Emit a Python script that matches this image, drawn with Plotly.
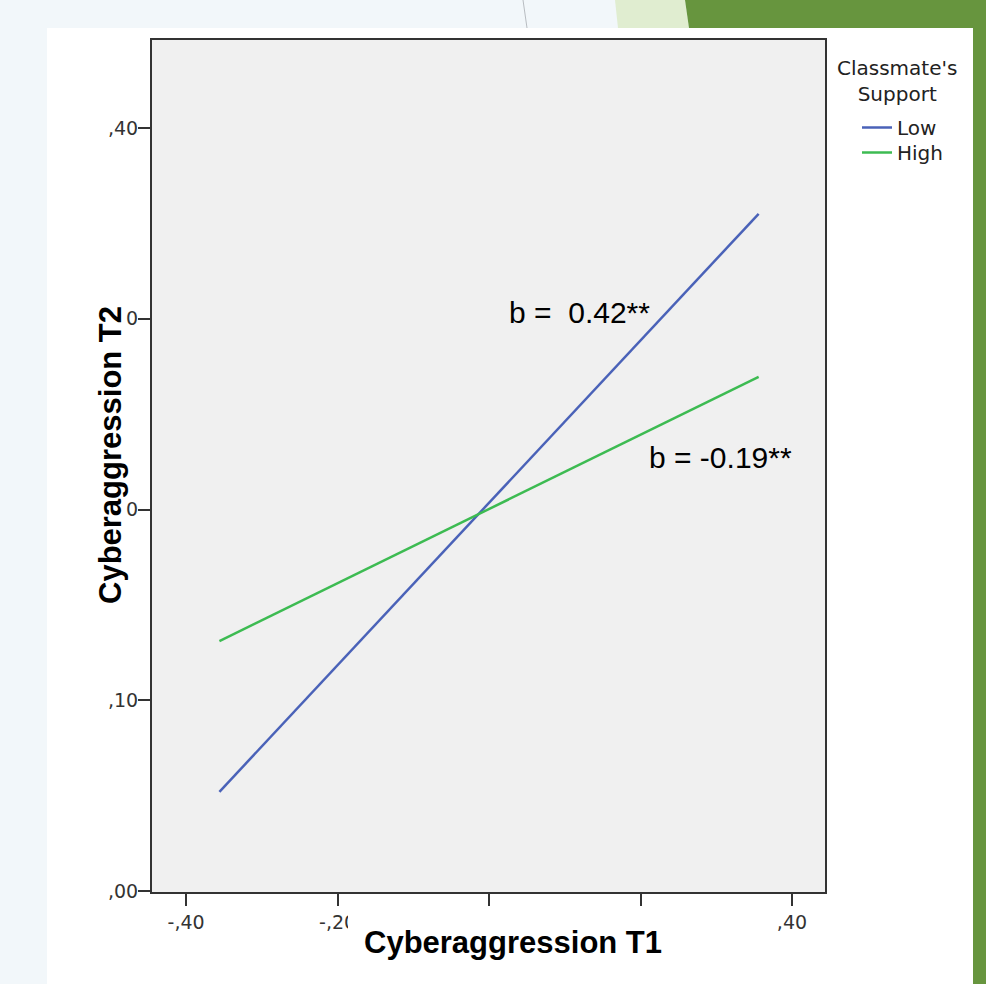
import plotly.graph_objects as go

# ---- data ----
x_points = [-0.356, 0.356]
low_support = [0.052, 0.355]
high_support = [0.131, 0.2695]
series_names = ["Low", "High"]
x_tick_vals = [-0.4, -0.2, 0.0, 0.2, 0.4]
x_tick_text = ["-,40", "-,20", ",00", ",20", ",40"]
y_tick_vals = [0.0, 0.1, 0.2, 0.3, 0.4]
y_tick_text = [",00", ",10", ",20", ",30", ",40"]
slope_labels = ["b =  0.42**", "b = -0.19**"]

W, H = 986, 984
L, R, T, B = 152, 825, 40, 892


def px(x):
    return (x - L) / (R - L)


def py(y):
    return (B - y) / (B - T)


fig = go.Figure()
fig.add_trace(go.Scatter(x=x_points, y=low_support, mode="lines", name=series_names[0],
                         line=dict(color="#4a62b8", width=2.5), legend="legend"))
fig.add_trace(go.Scatter(x=x_points, y=high_support, mode="lines", name=series_names[1],
                         line=dict(color="#3dbb52", width=2.5), legend="legend2"))

shapes = []
# page background strips
shapes.append(dict(type="rect", xref="paper", yref="paper", x0=px(0), x1=px(47), y0=py(984), y1=py(0),
                   fillcolor="#f2f7fa", line_width=0, layer="below"))
shapes.append(dict(type="rect", xref="paper", yref="paper", x0=px(0), x1=px(986), y0=py(28), y1=py(0),
                   fillcolor="#f2f7fa", line_width=0, layer="below"))
# light green slanted band
shapes.append(dict(type="path", xref="paper", yref="paper",
                   path=f"M {px(615)},{py(0)} L {px(685)},{py(0)} L {px(689)},{py(28)} L {px(618)},{py(28)} Z",
                   fillcolor="#e0edd0", line_width=0, layer="below"))
# dark green top block
shapes.append(dict(type="path", xref="paper", yref="paper",
                   path=f"M {px(685)},{py(0)} L {px(986)},{py(0)} L {px(986)},{py(28)} L {px(689)},{py(28)} Z",
                   fillcolor="#67953e", line_width=0, layer="below"))
# thin grey line
shapes.append(dict(type="line", xref="paper", yref="paper", x0=px(523), x1=px(527), y0=py(0), y1=py(28),
                   line=dict(color="#b8bcc0", width=1), layer="below"))
# right green bar
shapes.append(dict(type="rect", xref="paper", yref="paper", x0=px(973), x1=px(986), y0=py(984), y1=py(0),
                   fillcolor="#67953e", line_width=0, layer="below"))
# white boxes behind the axis titles (cover parts of tick labels)
shapes.append(dict(type="rect", xref="paper", yref="paper", x0=px(348), x1=px(690), y0=py(975), y1=py(914),
                   fillcolor="white", line_width=0, layer="above"))
shapes.append(dict(type="rect", xref="paper", yref="paper", x0=px(80), x1=px(126), y0=py(625), y1=py(290),
                   fillcolor="white", line_width=0, layer="above"))

annotations = [
    dict(x=0.120, y=0.3035, xref="x", yref="y", text=slope_labels[0], showarrow=False,
         xanchor="center", yanchor="middle",
         font=dict(family="Liberation Sans, Arial", size=30, color="black")),
    dict(x=0.306, y=0.2275, xref="x", yref="y", text=slope_labels[1], showarrow=False,
         xanchor="center", yanchor="middle",
         font=dict(family="Liberation Sans, Arial", size=30, color="black")),
    dict(x=px(513), y=py(942), xref="paper", yref="paper", text="<b>Cyberaggression T1</b>",
         showarrow=False, xanchor="center", yanchor="middle",
         font=dict(family="Liberation Sans, Arial", size=31, color="black")),
    dict(x=px(110), y=py(455), xref="paper", yref="paper", text="<b>Cyberaggression T2</b>",
         showarrow=False, textangle=-90, xanchor="center", yanchor="middle",
         font=dict(family="Liberation Sans, Arial", size=31, color="black")),
    dict(x=px(897), y=py(81), xref="paper", yref="paper", text="Classmate's<br>Support",
         showarrow=False, align="center", xanchor="center", yanchor="middle",
         font=dict(family="DejaVu Sans", size=20, color="#222")),
]

legend_common = dict(xanchor="left", yanchor="top",
                     font=dict(family="DejaVu Sans", size=20, color="#222"),
                     bgcolor="rgba(0,0,0,0)", tracegroupgap=0)

fig.update_layout(
    width=W, height=H,
    margin=dict(l=L, r=W - R, t=T, b=H - B, pad=0),
    paper_bgcolor="white",
    plot_bgcolor="#f0f0f0",
    shapes=shapes,
    annotations=annotations,
    showlegend=True,
    legend=dict(x=px(857), y=py(108), **legend_common),
    legend2=dict(x=px(857), y=py(133), **legend_common),
)
axis_common = dict(showline=True, mirror=True, linecolor="#333", linewidth=2,
                   ticks="outside", ticklen=12, tickwidth=2, tickcolor="#333",
                   showgrid=False, zeroline=False,
                   tickfont=dict(family="DejaVu Sans", size=19, color="#333"))
fig.update_xaxes(range=[-0.445, 0.4436], tickmode="array", tickvals=x_tick_vals, ticktext=x_tick_text,
                 **axis_common)
fig.update_yaxes(range=[-0.0005, 0.4461], tickmode="array", tickvals=y_tick_vals, ticktext=y_tick_text,
                 ticklabelstandoff=-4, **axis_common)

fig.write_html("out.html", config={"displayModeBar": False},
               post_script="document.body.style.margin='0';")
